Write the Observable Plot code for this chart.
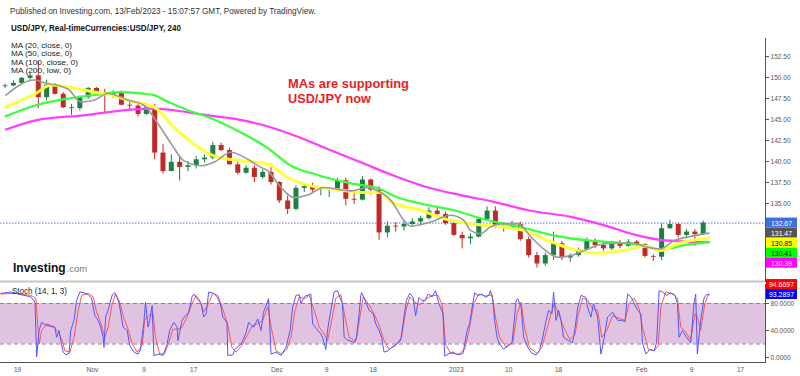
<!DOCTYPE html>
<html><head><meta charset="utf-8">
<script src="https://cdn.jsdelivr.net/npm/d3@7"></script>
<script src="https://cdn.jsdelivr.net/npm/@observablehq/plot@0.6"></script>
<style>
body{margin:0;background:#fff;}
#wrap{position:relative;width:800px;height:376px;overflow:hidden;font-family:"Liberation Sans",Arial,sans-serif;background:#fff;}
#wrap svg{position:absolute;left:0;}
</style></head>
<body><div id="wrap"></div>
<script>
// ---------- DATA ----------
const headerLines = ["Published on Investing.com, 13/Feb/2023 - 15:07:57 GMT, Powered by TradingView.", "USD/JPY, Real-timeCurrencies:USD/JPY, 240"];
const maLegend = ["MA (20, close, 0)", "MA (50, close, 0)", "MA (100, close, 0)", "MA (200, low, 0)"];
const annotation = ["MAs are supporting", "USD/JPY now"];
const stochLabel = "Stoch (14, 1, 3)";
const logoParts = ["Investing", ".com"];

// x ticks: trading-session index (one unit = one trading day)
const xTickPos = [2, 11, 17.2, 23.2, 33.2, 39.2, 44.8, 54.8, 61.1, 67.1, 77.1, 83.1, 89];
const xTickLabels = ["19", "Nov", "9", "17", "Dec", "9", "18", "2023", "10", "18", "Feb", "9", "17"];
// visible price ticks (132.50 / 130.00 / 127.50 sit under the value boxes)
const priceTicks = [135, 137.5, 140, 142.5, 145, 147.5, 150, 152.5];
const stochTicks = [0, 40, 80];

// daily OHLC (sessions 0..84)
const opens  = [148.9,149.0,149.3,149.9,150.2,147.6,149.1,148.0,146.4,146.3,147.6,148.7,148.2,147.9,148.2,146.7,146.6,145.6,146.4,141.0,138.8,139.9,139.3,139.5,140.2,140.4,141.9,141.3,139.6,138.6,139.2,138.1,138.7,137.5,135.3,134.3,136.8,137.0,136.6,136.6,136.6,137.7,135.5,135.4,137.8,136.6,131.5,132.3,132.2,132.5,132.8,133.2,134.1,133.7,132.6,131.2,130.8,131.0,133.1,134.1,132.2,132.2,132.5,130.7,128.8,127.8,128.8,130.2,128.5,128.8,129.5,130.6,130.0,129.6,130.2,129.9,130.4,130.1,128.7,128.6,132.0,132.5,131.2,131.6,131.3];
const highs  = [149.2,149.6,150.0,150.5,151.9,149.7,149.3,148.2,146.8,147.8,148.8,148.8,148.6,148.4,148.4,147.0,146.8,146.8,146.8,142.0,140.8,140.6,140.0,140.6,140.8,142.3,142.2,141.6,139.9,139.5,139.5,139.0,139.7,137.6,135.9,137.1,137.3,137.4,137.0,136.9,138.0,138.0,136.5,138.2,137.9,137.0,132.8,132.7,132.9,133.2,133.5,134.5,134.5,134.0,132.8,131.6,131.4,133.3,134.6,134.6,132.7,132.9,132.8,131.0,129.2,129.1,131.6,130.5,129.0,129.7,130.9,130.8,130.5,130.5,130.6,130.7,130.6,130.2,128.9,132.6,133.0,132.6,131.9,131.9,132.9];
const lows   = [148.7,148.9,149.2,149.7,146.3,147.2,147.9,146.3,145.5,146.0,147.4,147.9,145.8,147.5,146.6,146.1,145.3,145.5,140.2,138.5,138.8,137.7,138.8,139.1,139.8,140.2,141.2,139.6,138.4,138.5,137.5,137.9,137.2,135.0,133.7,134.1,136.3,136.2,135.9,135.7,136.4,134.7,134.9,135.3,136.0,130.6,130.9,131.6,131.7,132.2,132.5,133.0,133.3,132.4,131.1,129.6,130.1,130.9,132.9,132.0,131.6,131.9,130.5,128.5,127.3,127.5,128.2,128.2,128.0,128.6,129.4,129.6,129.3,129.4,129.6,129.8,129.8,128.5,128.1,128.2,131.9,130.9,130.8,129.9,131.2];
const closes = [149.0,149.3,149.9,150.2,147.6,149.1,148.0,146.4,146.3,147.6,148.7,148.2,147.9,148.2,146.7,146.6,145.6,146.4,141.0,138.8,139.9,139.3,139.5,140.2,140.4,141.9,141.3,139.6,138.6,139.2,138.1,138.7,137.5,135.3,134.3,136.8,137.0,136.6,136.6,136.6,137.7,135.5,135.4,137.8,136.6,131.5,132.3,132.2,132.5,132.8,133.2,134.1,133.7,132.6,131.2,130.8,131.0,133.1,134.1,132.2,132.2,132.5,130.7,128.8,127.8,128.8,130.2,128.5,128.8,129.5,130.6,130.0,129.6,130.2,129.9,130.4,130.1,128.7,128.6,132.0,132.5,131.2,131.6,131.3,132.67];

// moving averages: [session, price]
const ma20 = [[0.6,147.9],[4.0,149.7],[5.1,149.4],[8.1,148.6],[9.6,147.1],[11.2,147.3],[12.9,148.1],[15.3,147.3],[17.2,146.7],[18.9,144.5],[20.5,142.1],[22.0,140.1],[24.1,139.5],[25.6,139.9],[27.7,141.1],[28.9,140.7],[31.3,139.3],[32.1,138.9],[33.7,136.9],[35.3,135.7],[36.9,136.0],[38.9,136.9],[42.1,136.5],[44.1,136.9],[45.1,136.6],[46.9,135.4],[48.5,133.0],[49.3,132.3],[51.7,132.8],[54.1,133.6],[55.7,133.0],[56.5,131.8],[57.7,131.4],[58.9,132.2],[60.5,132.6],[62.2,132.6],[63.8,131.0],[65.3,129.6],[67.0,128.6],[68.6,128.8],[70.2,129.4],[72.6,130.2],[75.8,130.3],[77.8,129.8],[79.4,129.6],[81.0,130.6],[82.6,131.0],[85.2,131.47]];
const ma50 = [[0.6,146.5],[4.2,148.1],[6.0,149.1],[10.0,148.5],[13.2,147.9],[16.0,147.1],[18.4,146.5],[20.8,144.1],[23.2,142.1],[26.1,140.5],[28.9,140.1],[32.1,139.7],[34.5,138.1],[37.3,137.1],[40.1,136.7],[44.1,136.3],[45.7,136.3],[46.9,135.2],[50.5,134.2],[53.3,133.2],[56.5,132.6],[60.5,132.2],[62.9,131.8],[65.8,130.6],[68.6,129.6],[71.8,129.1],[74.9,129.4],[77.4,129.9],[79.4,129.4],[81.4,130.2],[85.2,130.85]];
const ma100 = [[0.6,145.4],[4.2,146.7],[8.1,147.5],[12.0,148.0],[14.4,148.25],[16.8,148.1],[18.4,147.9],[20.1,147.1],[22.5,146.1],[24.9,145.3],[28.0,143.9],[32.1,141.6],[34.9,139.5],[38.1,138.4],[42.1,137.4],[45.7,136.7],[47.3,135.9],[50.5,135.0],[54.5,134.2],[58.6,133.0],[62.5,132.2],[66.5,131.2],[70.6,130.6],[74.6,130.3],[77.4,130.0],[79.4,129.5],[82.6,130.1],[85.2,130.41]];
const ma200 = [[0.6,143.8],[4.2,144.9],[10.0,145.5],[16.0,146.2],[18.3,146.3],[20.8,146.1],[24.1,145.6],[28.0,145.1],[31.3,144.4],[35.3,143.1],[39.3,141.5],[43.3,139.9],[47.3,138.3],[51.4,136.9],[55.3,136.0],[59.3,135.2],[63.4,134.2],[68.6,133.4],[72.6,132.4],[76.6,131.2],[79.1,130.7],[81.8,130.5],[85.2,130.39]];

// stochastic %K (blue) and %D (red): [session, value]
const stochK = [[0.0,95],[1.2,97],[2.4,93],[3.6,90],[4.1,82],[4.3,1],[4.6,40],[4.9,52],[5.4,48],[6.0,46],[6.5,45],[6.7,30],[7.0,40],[7.2,25],[7.5,8],[7.8,4],[8.2,6],[8.4,40],[8.8,55],[9.1,84],[9.5,97],[10.0,96],[10.5,93],[10.9,88],[11.3,62],[11.7,55],[12.0,45],[12.3,30],[12.4,15],[12.6,60],[12.9,70],[13.4,93],[13.7,96],[14.1,85],[14.3,75],[14.7,45],[15.2,40],[15.5,18],[16.0,8],[16.5,5],[16.8,12],[17.2,52],[17.4,82],[17.7,45],[17.9,55],[18.2,77],[18.4,3],[19.0,5],[19.5,3],[20.0,20],[20.3,40],[20.8,52],[21.2,45],[21.3,25],[21.8,55],[22.1,60],[22.6,67],[23.0,90],[23.2,94],[23.7,86],[24.1,80],[24.4,60],[24.7,65],[25.0,97],[25.6,95],[26.0,90],[26.4,80],[26.7,60],[27.2,52],[27.3,3],[27.9,4],[28.2,13],[28.9,20],[29.1,25],[29.5,37],[29.8,52],[30.4,45],[30.9,57],[31.3,40],[31.6,67],[32.0,80],[32.2,87],[32.5,5],[33.1,8],[33.7,3],[34.3,15],[34.8,40],[35.1,74],[35.5,92],[35.9,93],[36.1,80],[36.3,85],[36.6,91],[37.1,93],[37.3,94],[37.5,50],[38.0,42],[38.5,35],[38.7,30],[39.1,12],[39.3,40],[39.7,70],[40.1,97],[40.5,99],[40.9,85],[41.1,80],[41.3,30],[41.7,26],[42.5,22],[42.8,30],[43.1,65],[43.3,92],[43.4,96],[43.8,85],[44.3,70],[44.8,65],[45.1,50],[45.5,40],[45.8,30],[46.1,8],[46.6,10],[47.0,15],[47.6,20],[48.1,25],[48.5,60],[48.8,85],[49.2,95],[49.6,89],[49.9,62],[50.3,89],[50.6,85],[51.0,84],[51.4,94],[51.9,90],[52.3,99],[52.7,80],[53.2,65],[53.4,2],[53.8,5],[54.4,8],[55.0,4],[55.6,6],[56.1,40],[56.4,50],[56.7,74],[57.0,96],[57.4,92],[57.9,94],[58.3,89],[58.7,92],[58.9,99],[59.2,85],[59.4,55],[59.7,30],[60.0,20],[60.5,12],[61.0,18],[61.5,22],[62.0,85],[62.2,87],[62.6,74],[62.9,30],[63.4,15],[63.9,6],[64.4,4],[64.8,10],[65.2,30],[65.6,55],[65.9,70],[66.3,65],[66.5,97],[66.8,55],[67.1,70],[67.4,55],[67.7,30],[68.3,25],[68.8,22],[69.1,45],[69.4,74],[69.8,92],[70.4,89],[70.6,74],[71.0,60],[71.3,80],[71.8,60],[72.2,5],[72.6,30],[73.0,60],[73.6,67],[74.2,55],[74.7,55],[75.1,53],[75.4,94],[75.8,90],[76.2,80],[76.6,70],[77.0,65],[77.2,22],[77.6,5],[78.1,12],[78.6,10],[78.9,22],[79.2,99],[79.6,97],[80.1,92],[80.6,96],[81.1,92],[81.4,80],[81.6,30],[82.0,40],[82.5,30],[83.0,22],[83.4,80],[83.6,94],[83.8,5],[84.2,55],[84.6,88],[84.9,93],[85.2,93.2897]];
const stochD = [[0,94],[1.8,95],[3.6,92],[4.2,88],[4.6,20],[4.9,40],[5.5,50],[6.3,46],[6.9,38],[7.3,28],[7.7,10],[8.3,8],[8.8,30],[9.3,70],[9.7,92],[10.5,95],[11.1,90],[11.5,68],[12.0,52],[12.5,30],[12.9,45],[13.4,80],[13.8,94],[14.3,82],[14.8,58],[15.3,42],[15.8,20],[16.4,8],[17.0,18],[17.3,55],[17.8,62],[18.3,65],[18.6,30],[19.1,5],[19.7,6],[20.2,22],[20.7,42],[21.3,42],[21.8,45],[22.4,60],[23.0,80],[23.5,92],[23.9,85],[24.4,68],[24.9,78],[25.5,95],[26.1,92],[26.7,72],[27.3,48],[27.8,15],[28.3,8],[29.0,18],[29.6,32],[30.2,46],[30.9,50],[31.5,55],[32.1,75],[32.6,40],[33.1,10],[33.8,5],[34.4,12],[34.9,30],[35.4,70],[35.9,90],[36.5,87],[37.1,92],[37.7,70],[38.3,45],[38.9,35],[39.3,25],[39.8,55],[40.3,88],[40.9,93],[41.4,60],[41.9,30],[42.7,24],[43.2,60],[43.6,90],[44.2,80],[44.9,65],[45.5,48],[46.1,25],[46.7,12],[47.5,18],[48.2,30],[48.7,68],[49.2,90],[49.8,82],[50.4,78],[51.1,86],[51.9,92],[52.6,92],[53.1,78],[53.5,20],[54.1,6],[55.1,5],[55.8,12],[56.3,38],[56.9,80],[57.5,94],[58.3,91],[59.1,93],[59.5,60],[60.0,30],[60.8,15],[61.6,22],[62.1,65],[62.6,82],[63.0,45],[63.6,15],[64.5,6],[65.1,15],[65.7,42],[66.2,65],[66.6,80],[67.1,65],[67.7,45],[68.5,26],[69.1,35],[69.5,65],[70.0,88],[70.6,85],[71.2,72],[71.8,70],[72.3,30],[72.9,40],[73.6,62],[74.4,58],[75.1,55],[75.6,80],[76.2,88],[76.8,72],[77.2,45],[77.9,12],[78.6,10],[79.1,18],[79.4,75],[80.0,97],[80.9,94],[81.4,88],[81.8,45],[82.4,38],[83.0,26],[83.5,65],[83.8,60],[84.2,40],[84.7,80],[85.2,94.6697]];

// ---------- BUILD ----------
const UP = "#1f8045", DOWN = "#c42a25";
const candles = opens.map((o, i) => ({t: i + 0.5, open: o, high: highs[i], low: lows[i], close: closes[i]}));
const lastClose = closes[closes.length - 1];
const xDomain = [-0.05, 92];
const mainDomain = [125.714, 154.643];
const stochDomain = [-7.41, 108.15];
const FONT = "'Liberation Sans', Arial, sans-serif";
const px = d => d[0], py = d => d[1];
const candleColor = d => d.close >= d.open ? UP : DOWN;

const main = Plot.plot({
  width: 800, height: 283,
  marginLeft: 0, marginRight: 35, marginTop: 38, marginBottom: 2,
  style: {fontFamily: FONT, fontSize: "8px", color: "#555", background: "transparent", overflow: "visible"},
  x: {domain: xDomain, axis: null},
  y: {domain: mainDomain, axis: "right", ticks: priceTicks, tickFormat: d => d.toFixed(2), tickSize: 3, tickPadding: 2, line: true, label: null},
  color: {type: "identity"},
  marks: [
    Plot.ruleY([mainDomain[0]], {stroke: "#c4c4c4", strokeWidth: 2}),
    Plot.ruleY([lastClose], {stroke: "#4a74e0", strokeDasharray: "1.5,1.5", strokeWidth: 1}),
    Plot.ruleX(candles, {x: "t", y1: "low", y2: "high", stroke: candleColor, strokeWidth: 1}),
    Plot.ruleX(candles, {x: "t", y1: "open", y2: "close", stroke: candleColor, strokeWidth: 5}),
    Plot.line(ma200, {x: px, y: py, stroke: "#ff3cff", strokeWidth: 2.2, curve: "monotone-x"}),
    Plot.line(ma100, {x: px, y: py, stroke: "#3cff3c", strokeWidth: 2.2, curve: "monotone-x"}),
    Plot.line(ma50, {x: px, y: py, stroke: "#ffff3c", strokeWidth: 3, curve: "monotone-x"}),
    Plot.line(ma20, {x: px, y: py, stroke: "#9a9a9a", strokeWidth: 1.6, curve: "monotone-x"})
  ]
});
main.style.top = "0px";

const stoch = Plot.plot({
  width: 800, height: 94,
  marginLeft: 0, marginRight: 35, marginTop: 2, marginBottom: 14,
  style: {fontFamily: FONT, fontSize: "8px", color: "#555", background: "transparent", overflow: "visible"},
  x: {domain: xDomain, ticks: xTickPos, tickFormat: d => xTickLabels[xTickPos.indexOf(d)], tickSize: 0, tickPadding: 4, line: true, label: null},
  y: {domain: stochDomain, axis: "right", ticks: stochTicks, tickFormat: d => d.toFixed(4), tickSize: 3, tickPadding: 2, line: true, label: null},
  marks: [
    Plot.rect([0], {x1: xDomain[0], x2: xDomain[1], y1: 20, y2: 80, fill: "#dfc3e1"}),
    Plot.ruleY([20, 80], {stroke: "#8d7f8d", strokeDasharray: "4,3", strokeWidth: 1}),
    Plot.line(stochD, {x: px, y: py, stroke: "#ff5555", strokeWidth: 1}),
    Plot.line(stochK, {x: px, y: py, stroke: "#5555ff", strokeWidth: 1})
  ]
});
stoch.style.top = "282px";

const wrap = document.getElementById("wrap");
wrap.appendChild(main);
wrap.appendChild(stoch);

// condense axis text (the reference is horizontally compressed)
function condense(svg, f) {
  svg.querySelectorAll("text").forEach(t => {
    const w = t.getComputedTextLength();
    if (w > 0) { t.setAttribute("textLength", (w * f).toFixed(1)); t.setAttribute("lengthAdjust", "spacingAndGlyphs"); }
  });
}
condense(main, 0.82);
condense(stoch, 0.82);

function txt(sel, s, x, y, o) {
  const t = sel.append("text").attr("x", x).attr("y", y).text(s)
    .attr("font-size", o.size).attr("font-weight", o.weight || "normal")
    .attr("fill", o.fill || "#222").attr("text-anchor", o.anchor || "start")
    .attr("font-family", FONT);
  if (o.len) t.attr("textLength", o.len).attr("lengthAdjust", "spacingAndGlyphs");
  return t;
}

// main overlays
const gm = d3.select(main).append("g");
txt(gm, headerLines[0], 10, 14, {size: 9.5, fill: "#333", len: 306});
txt(gm, headerLines[1], 11, 31, {size: 9.5, weight: "bold", fill: "#111", len: 170});
const legLens = [61, 61, 67, 60];
maLegend.forEach((s, i) => txt(gm, s, 11, 47.5 + i * 8.6, {size: 7.6, fill: "#222", len: legLens[i]}));
txt(gm, annotation[0], 288, 87.5, {size: 13.5, weight: "bold", fill: "#ee1c24", len: 121});
txt(gm, annotation[1], 288, 102.5, {size: 13.5, weight: "bold", fill: "#ee1c24", len: 83});
// logo: natural widths chosen so the two pieces sit side by side
const logoA = txt(gm, logoParts[0], 13, 272, {size: 12, weight: "bold", fill: "#111"});
const logoEnd = 13 + logoA.node().getComputedTextLength();
txt(gm, logoParts[1], logoEnd + 1, 272, {size: 9.5, fill: "#777"});

// price labels on right axis
const ysc = main.scale("y");
const yMain = ysc.apply ? v => ysc.apply(v) : d3.scaleLinear(ysc.domain, ysc.range);
const priceLabels = [
  {v: lastClose, fill: "#3f6fdc", text: "#fff"},
  {v: ma20[ma20.length - 1][1], fill: "#555555", text: "#fff"},
  {v: ma50[ma50.length - 1][1], fill: "#ffff00", text: "#000"},
  {v: ma100[ma100.length - 1][1], fill: "#00ff00", text: "#000"},
  {v: ma200[ma200.length - 1][1], fill: "#ff00ff", text: "#fff"}
].sort((a, b) => b.v - a.v);
let prev = -Infinity;
priceLabels.forEach(l => {
  const cy = Math.max(yMain(l.v), prev + 10); prev = cy;
  gm.append("rect").attr("x", 766).attr("y", cy - 5).attr("width", 31).attr("height", 10).attr("fill", l.fill);
  txt(gm, l.v.toFixed(2), 781.5, cy + 3, {size: 7.6, fill: l.text, anchor: "middle", len: 21});
});

// stoch overlays
const gs = d3.select(stoch).append("g");
txt(gs, stochLabel, 12, 12, {size: 9, fill: "#222", len: 55});
const ssc = stoch.scale("y");
const yStoch = ssc.apply ? v => ssc.apply(v) : d3.scaleLinear(ssc.domain, ssc.range);
const stochLabels = [
  {v: stochK[stochK.length - 1][1], fill: "#0000ff"},
  {v: stochD[stochD.length - 1][1], fill: "#ff0000"}
].sort((a, b) => a.v - b.v);
let prevS = Infinity;
stochLabels.forEach(l => {
  const cy = Math.min(yStoch(l.v), prevS - 10); prevS = cy;
  gs.append("rect").attr("x", 766).attr("y", cy - 5).attr("width", 31).attr("height", 10).attr("fill", l.fill);
  txt(gs, l.v.toFixed(4), 781.5, cy + 3, {size: 7.6, fill: "#fff", anchor: "middle", len: 25});
});
</script>
</body></html>
